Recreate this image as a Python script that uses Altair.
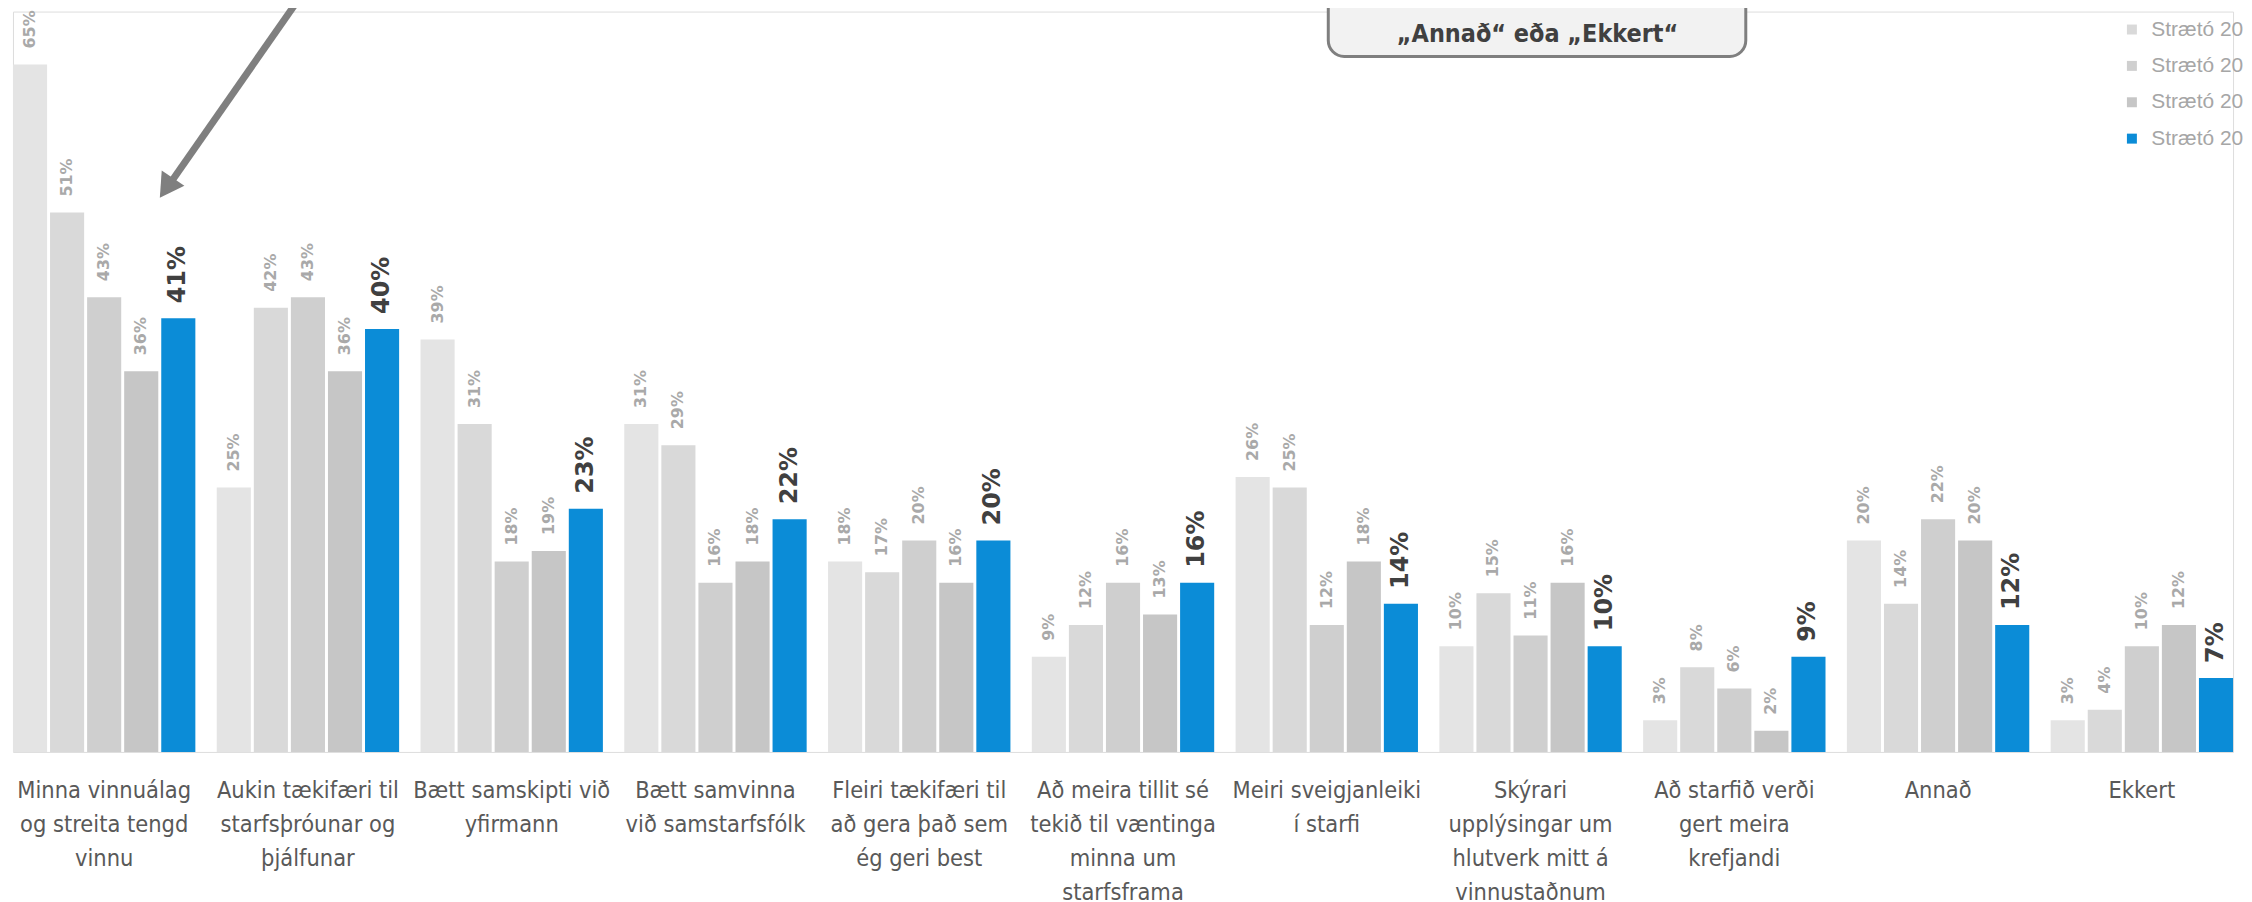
import altair as alt
import pandas as pd

categories = [
    "Minna vinnuálag\nog streita tengd\nvinnu",
    "Aukin tækifæri til\nstarfsþróunar og\nþjálfunar",
    "Bætt samskipti við\nyfirmann",
    "Bætt samvinna\nvið samstarfsfólk",
    "Fleiri tækifæri til\nað gera það sem\nég geri best",
    "Að meira tillit sé\ntekið til væntinga\nminna um\nstarfsframa",
    "Meiri sveigjanleiki\ní starfi",
    "Skýrari\nupplýsingar um\nhlutverk mitt á\nvinnustaðnum",
    "Að starfið verði\ngert meira\nkrefjandi",
    "Annað",
    "Ekkert",
]

series = ["Strætó 2014", "Strætó 2015", "Strætó 2016", "Strætó 2017", "Strætó 2018"]
colors = ["#E4E4E4", "#D9D9D9", "#CFCFCF", "#C6C6C6", "#0B8CD7"]

s2014 = [65, 25, 39, 31, 18, 9, 26, 10, 3, 20, 3]
s2015 = [51, 42, 31, 29, 17, 12, 25, 15, 8, 14, 4]
s2016 = [43, 43, 18, 16, 20, 16, 12, 11, 6, 22, 10]
s2017 = [36, 36, 19, 18, 16, 13, 18, 16, 2, 20, 12]
s2018 = [41, 40, 23, 22, 20, 16, 14, 10, 9, 12, 7]

callout_text = "„Annað“ eða „Ekkert“"

rows = []
for s, vals in zip(series, [s2014, s2015, s2016, s2017, s2018]):
    for c, v in zip(categories, vals):
        rows.append({"category": c, "series": s, "value": v})
df = pd.DataFrame(rows)

LABEL_FONT = "DejaVu Sans Condensed, Liberation Sans Narrow, Liberation Sans, sans-serif"
LEGEND_FONT = "Liberation Sans Narrow, Liberation Sans, sans-serif"
VALUE_FONT = "DejaVu Sans, Verdana, sans-serif"

x_enc = alt.X(
    "category:N",
    sort=categories,
    scale=alt.Scale(paddingInner=0.105, paddingOuter=0, round=False),
    axis=alt.Axis(
        title=None,
        domain=False,
        ticks=False,
        labelAngle=0,
        labelFont=LABEL_FONT,
        labelFontSize=23.5,
        labelColor="#595959",
        labelLineHeight=34,
        labelPadding=27,
        labelLimit=400,
        labelOverlap=False,
        labelExpr="split(datum.label, '\\n')",
    ),
)
xoff = alt.XOffset("series:N", sort=series,
                   scale=alt.Scale(paddingInner=0.08, paddingOuter=0, round=False))
y_enc = alt.Y("value:Q", scale=alt.Scale(domain=[0, 70], nice=False), axis=None)

base = alt.Chart(df).encode(x=x_enc, xOffset=xoff, y=y_enc)

bars = base.mark_bar().encode(
    color=alt.Color(
        "series:N",
        sort=series,
        scale=alt.Scale(domain=series, range=colors),
        legend=alt.Legend(
            orient="none",
            legendX=2116,
            legendY=-29,
            title=None,
            symbolType="square",
            symbolSize=100,
            symbolStrokeWidth=0,
            labelFont=LEGEND_FONT,
            labelFontSize=21,
            labelColor="#A6A6A6",
            labelOffset=9,
            labelLimit=0,
            rowPadding=14.5,
            padding=0,
        ),
    )
)

gray_labels = (
    base.transform_filter(alt.datum.series != series[-1])
    .transform_calculate(lbl="datum.value + '%'")
    .mark_text(angle=270, align="left", baseline="middle", dx=16,
               font=VALUE_FONT, fontSize=16, fontWeight="bold", color="#A9A9A9")
    .encode(text="lbl:N")
)

blue_labels = (
    base.transform_filter(alt.datum.series == series[-1])
    .transform_calculate(lbl="datum.value + '%'")
    .mark_text(angle=270, align="left", baseline="middle", dx=15,
               font=VALUE_FONT, fontSize=24, fontWeight="bold", color="#404040")
    .encode(text="lbl:N")
)

one = pd.DataFrame({"k": [0]})

arrow_line = alt.Chart(one).mark_rule(color="#7F7F7F", strokeWidth=7).encode(
    x=alt.value(292), y=alt.value(-20), x2=alt.value(158), y2=alt.value(172)
)
arrow_head = alt.Chart(one).mark_point(
    shape="triangle-down", filled=True, color="#7F7F7F", size=750, angle=34, opacity=1
).encode(x=alt.value(154), y=alt.value(177))

box = alt.Chart(one).mark_rect(
    fill="#F2F2F2", stroke="#7F7F7F", strokeWidth=3, cornerRadius=16
).encode(x=alt.value(1320), x2=alt.value(1739), y=alt.value(-80), y2=alt.value(45))

box_text = alt.Chart(one).mark_text(
    font=LABEL_FONT, fontSize=25, fontWeight="bold", color="#404040", align="center", baseline="middle"
).encode(x=alt.value(1530), y=alt.value(23), text=alt.value(callout_text))

chart = (
    alt.layer(bars, gray_labels, blue_labels, arrow_line, arrow_head, box, box_text)
    .properties(
        width=2228,
        height=743,
        autosize=alt.AutoSizeParams(type="none"),
        padding={"left": 5, "top": 2, "right": 11, "bottom": 149},
    )
    .configure_view(stroke="transparent", strokeWidth=0)
    .configure(background="white")
)

chart.save("out.html", embed_options={"renderer": "svg", "actions": False})
